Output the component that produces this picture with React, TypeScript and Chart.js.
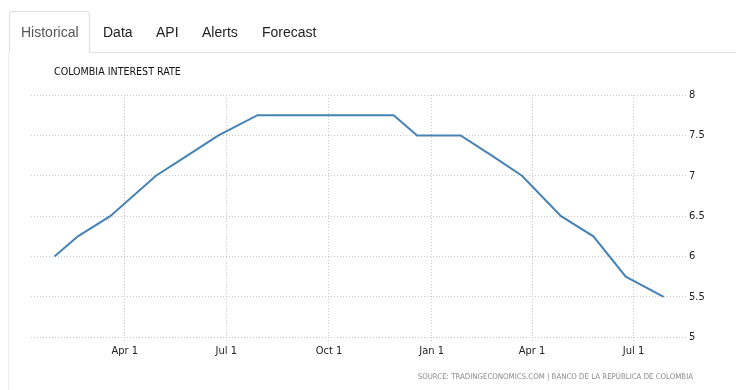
import React, { useEffect, useRef } from 'react';
import { Chart, registerables } from 'chart.js';

Chart.register(...registerables);

// ---- data ----
const rateDates = [
  '2016-01-29', '2016-02-19', '2016-03-19', '2016-04-29', '2016-05-27', '2016-06-24',
  '2016-07-29', '2016-08-31', '2016-09-30', '2016-10-31', '2016-11-28', '2016-12-19',
  '2017-01-27', '2017-02-24', '2017-03-23', '2017-04-27', '2017-05-26', '2017-06-24',
  '2017-07-28',
];
const rateValues = [
  6.0, 6.25, 6.5, 7.0, 7.25, 7.5,
  7.75, 7.75, 7.75, 7.75, 7.75, 7.5,
  7.5, 7.25, 7.0, 6.5, 6.25, 5.75,
  5.5,
];
const xTickDates = ['2016-04-01', '2016-07-01', '2016-10-01', '2017-01-01', '2017-04-01', '2017-07-01'];
const xTickLabels = ['Apr 1', 'Jul 1', 'Oct 1', 'Jan 1', 'Apr 1', 'Jul 1'];
const yTickValues = [5, 5.5, 6, 6.5, 7, 7.5, 8];
const yTickLabels = ['5', '5.5', '6', '6.5', '7', '7.5', '8'];
const xRange = ['2016-01-08', '2017-08-17'];
const tabLabels = ['Historical', 'Data', 'API', 'Alerts', 'Forecast'];
const tabLefts = [21, 103, 156, 202, 262];
const chartTitle = 'COLOMBIA INTEREST RATE';
const sourceText = 'SOURCE: TRADINGECONOMICS.COM | BANCO DE LA REPÚBLICA DE COLOMBIA';

const day = (s: string) => Date.parse(s + 'T00:00:00Z') / 86400000;

const condensed = "'DejaVu Sans Condensed', 'DejaVu Sans', sans-serif";

export default function App() {
  const ref = useRef<HTMLCanvasElement | null>(null);

  useEffect(() => {
    if (!ref.current) return;
    const gridColor = '#c9c9c9';
    const chart = new Chart(ref.current, {
      type: 'line',
      data: {
        datasets: [
          {
            data: rateDates.map((d, i) => ({ x: day(d), y: rateValues[i] })),
            borderColor: '#4682b4',
            borderWidth: 2,
            pointRadius: 0,
            tension: 0,
            fill: false,
          },
        ],
      },
      options: {
        animation: false,
        responsive: false,
        maintainAspectRatio: false,
        layout: { padding: { left: 31, top: 95, right: 0, bottom: 0 } },
        plugins: { legend: { display: false }, tooltip: { enabled: false } },
        scales: {
          x: {
            type: 'linear',
            min: day(xRange[0]),
            max: day(xRange[1]),
            afterBuildTicks: (s: any) => {
              s.ticks = xTickDates.map((d) => ({ value: day(d) }));
            },
            afterFit: (s: any) => {
              s.height = 52.7;
            },
            grid: {
              color: gridColor,
              tickLength: 6,
              tickBorderDash: [1, 2],
            },
            border: { display: false, dash: [1, 2] },
            ticks: {
              callback: (_v: any, i: number) => xTickLabels[i],
              font: { family: condensed, size: 11 },
              color: '#222',
              padding: 1,
              maxRotation: 0,
              autoSkip: false,
            },
          },
          y: {
            position: 'right',
            min: 5,
            max: 8,
            afterBuildTicks: (s: any) => {
              s.ticks = yTickValues.map((v) => ({ value: v }));
            },
            afterFit: (s: any) => {
              s.width = 50;
            },
            grid: { color: gridColor, drawTicks: false },
            border: { display: false, dash: [1, 2] },
            ticks: {
              callback: (_v: any, i: number) => yTickLabels[i],
              font: { family: condensed, size: 11 },
              color: '#222',
              padding: 3,
            },
          },
        },
      },
    } as any);
    return () => chart.destroy();
  }, []);

  return (
    <div style={{ position: 'absolute', left: 0, top: 0, width: 736, height: 390, background: '#fff', overflow: 'hidden' }}>
      <canvas ref={ref} width={736} height={390} style={{ position: 'absolute', left: 0, top: 0, width: 736, height: 390, display: 'block' }} />
      {/* tab bar bottom line */}
      <div style={{ position: 'absolute', left: 9, top: 52, width: 727, height: 1, background: '#ddd' }} />
      {/* content left border */}
      <div style={{ position: 'absolute', left: 8, top: 53, width: 1, height: 337, background: '#eee' }} />
      {/* active tab */}
      <div
        style={{
          position: 'absolute',
          left: 9,
          top: 11,
          width: 81,
          height: 42,
          boxSizing: 'border-box',
          border: '1px solid #ddd',
          borderBottom: '1px solid #fff',
          borderRadius: '4px 4px 0 0',
          background: '#fff',
        }}
      />
      {tabLabels.map((t, i) => (
        <div
          key={t}
          style={{
            position: 'absolute',
            left: tabLefts[i],
            top: 22,
            lineHeight: '20px',
            fontFamily: "'Liberation Sans', Arial, sans-serif",
            fontSize: 14,
            color: i === 0 ? '#555' : '#222',
            whiteSpace: 'nowrap',
          }}
        >
          {t}
        </div>
      ))}
      <div
        style={{
          position: 'absolute',
          left: 54,
          top: 64,
          lineHeight: '14px',
          fontFamily: condensed,
          fontSize: 10.6,
          color: '#111',
          whiteSpace: 'nowrap',
        }}
      >
        {chartTitle}
      </div>
      <div
        style={{
          position: 'absolute',
          right: 43,
          top: 371,
          lineHeight: '12px',
          fontFamily: condensed,
          fontSize: 7.8,
          color: '#8a8a8a',
          whiteSpace: 'pre',
        }}
      >
        {sourceText}
      </div>
    </div>
  );
}
